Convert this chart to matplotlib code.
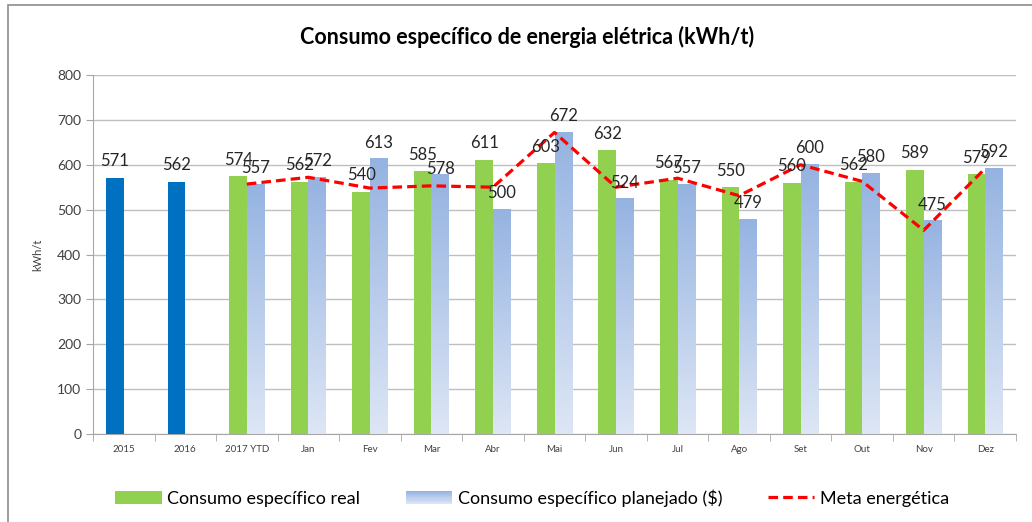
import numpy as np
import matplotlib
matplotlib.use("Agg")
import matplotlib.pyplot as plt
from matplotlib.patches import Rectangle, Patch
from matplotlib.lines import Line2D
from matplotlib.legend_handler import HandlerBase
from matplotlib.colors import LinearSegmentedColormap, to_rgb

plt.rcParams['font.family'] = ['Lato', 'DejaVu Sans']

# dados
categorias = ['2015', '2016', '2017 YTD', 'Jan', 'Fev', 'Mar', 'Abr', 'Mai',
              'Jun', 'Jul', 'Ago', 'Set', 'Out', 'Nov', 'Dez']
real = [571, 562, 574, 562, 540, 585, 611, 603, 632, 567, 550, 560, 562, 589, 579]
planejado = [np.nan, np.nan, 557, 572, 613, 578, 500, 672, 524, 557, 479, 600, 580, 475, 592]
meta = [np.nan, np.nan, 557, 572, 548, 553, 550, 672, 550, 570, 531, 600, 563, 454, 592]

cor_hist = '#0070C0'
cor_real = '#92D050'
grad_topo = '#95B3E1'
grad_base = '#DDE6F5'
cmap_grad = LinearSegmentedColormap.from_list('plan', [grad_base, grad_topo])

fig = plt.figure(figsize=(10.32, 5.22), dpi=100)
ax = fig.add_axes([93/1032, 1 - 434/522, (1016-93)/1032, (434-75)/522])

x = np.arange(len(categorias))
w = 0.285

# barras reais (2015/2016 em azul)
cores = [cor_hist if i < 2 else cor_real for i in range(len(categorias))]
ax.bar(x - w/2, real, width=w, color=cores, zorder=3)

# barras planejadas com degradê
grad = np.linspace(0, 1, 256).reshape(-1, 1)[::-1]
for xi, v in zip(x, planejado):
    if np.isnan(v):
        continue
    ax.imshow(grad, extent=[xi, xi + w, 0, v], aspect='auto', cmap=cmap_grad,
              zorder=3, interpolation='bicubic')

# meta
ax.plot(x, meta, color='#FF0000', linestyle=(0, (3, 1.6)), linewidth=2.3, zorder=5)

# rótulos (o rótulo de Mar planejado fica mais baixo no original)
lab_kw = dict(textcoords='offset points', ha='center', va='bottom',
              fontsize=12, color='#262626', zorder=6)
for xi, v in zip(x, real):
    ax.annotate(f'{v:.0f}', (xi - w/2, v), xytext=(0, 6), **lab_kw)
for cat, xi, v in zip(categorias, x, planejado):
    if not np.isnan(v):
        dy = -1.5 if cat == 'Mar' else 6
        ax.annotate(f'{v:.0f}', (xi + w/2, v), xytext=(0, dy), **lab_kw)

ax.set_xlim(-0.5, len(categorias) - 0.5)
ax.set_ylim(0, 800)
ax.set_yticks(np.arange(0, 801, 100))
ax.yaxis.grid(True, color='#BFBFBF', linewidth=1)
ax.set_axisbelow(True)

ax.set_xticks(x)
ax.set_xticklabels(categorias, fontsize=7, color='#404040')
ax.set_xticks(np.arange(-0.5, len(categorias)), minor=True)
ax.tick_params(axis='x', which='major', length=0, pad=8)
ax.tick_params(axis='x', which='minor', length=5, color='#A6A6A6')
ax.tick_params(axis='y', length=5, color='#A6A6A6', labelsize=10, labelcolor='#404040')
for s in ['top', 'right']:
    ax.spines[s].set_visible(False)
for s in ['left', 'bottom']:
    ax.spines[s].set_color('#A6A6A6')
ax.set_ylabel('kWh/t', fontsize=8, color='#404040', labelpad=10)

fig.text(527/1032, 1 - 37/522, 'Consumo específico de energia elétrica (kWh/t)',
         ha='center', va='center', fontsize=15.5, fontweight='bold', color='black')

# borda externa
fig.patches.append(Rectangle((8/1032, -0.05), 1.1, 1 - 5/522 + 0.05,
                             transform=fig.transFigure, fill=False,
                             edgecolor='#8C8C8C', linewidth=1.2))


class HandlerGrad(HandlerBase):
    def create_artists(self, legend, orig_handle, xdescent, ydescent,
                       width, height, fontsize, trans):
        arts = []
        n = 12
        c0 = np.array(to_rgb(grad_topo))
        c1 = np.array(to_rgb(grad_base))
        for k in range(n):
            c = c0 + (c1 - c0) * k / (n - 1)
            r = Rectangle((-xdescent, -ydescent + height * (1 - (k + 1) / n)),
                          width, height / n, facecolor=c, edgecolor='none',
                          transform=trans)
            arts.append(r)
        return arts


h_real = Patch(facecolor=cor_real)
h_plan = Patch(facecolor=grad_topo)
h_meta = Line2D([], [], color='#FF0000', linestyle=(0, (3, 1.6)), linewidth=2.3)
fig.legend([h_real, h_plan, h_meta],
           ['Consumo específico real', 'Consumo específico planejado ($)', 'Meta energética'],
           loc='center', bbox_to_anchor=(532/1032, 1 - 498/522), ncol=3, frameon=False,
           fontsize=13, handlelength=2.6, handleheight=0.7, columnspacing=2.5,
           handletextpad=0.3, handler_map={h_plan: HandlerGrad()})

fig.savefig('out.png', dpi=100)
